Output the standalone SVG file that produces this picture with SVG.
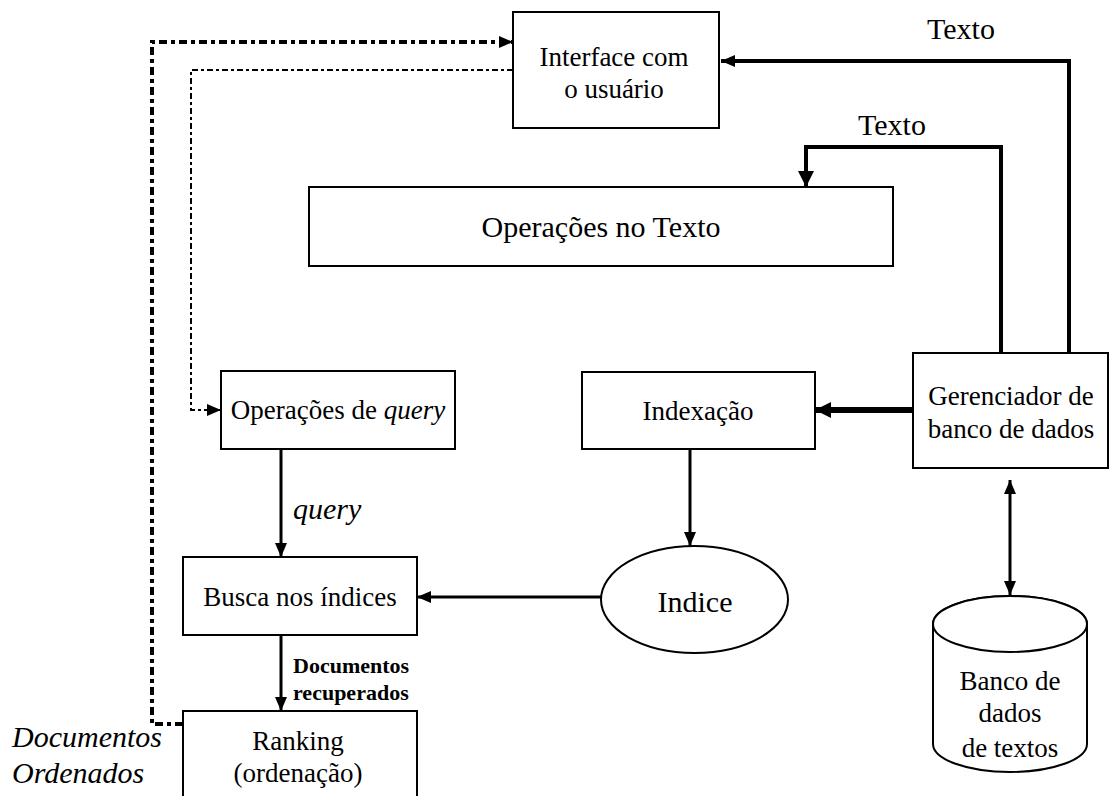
<svg xmlns="http://www.w3.org/2000/svg" width="1110" height="796" viewBox="0 0 1110 796">
<style>
.box{fill:#fff;stroke:#000;stroke-width:2}
.t{font-family:'Liberation Serif','Tinos','Times New Roman','DejaVu Serif',serif;font-size:27px;fill:#000;text-anchor:middle}
.big{font-size:30px}
.it{font-style:italic}
.b{font-weight:bold;font-size:22px;text-anchor:start}
.ln{fill:none;stroke:#000;stroke-width:3}
.th{stroke-width:4}
.tk{stroke-width:6}
.dt{fill:none;stroke:#000;stroke-width:4;stroke-dasharray:8 4 4 4}
.dn{fill:none;stroke:#000;stroke-width:2;stroke-dasharray:6 3 3 3}
</style>
<defs>
<marker id="a" markerUnits="userSpaceOnUse" viewBox="0 0 14 12" refX="14" refY="6" markerWidth="14" markerHeight="12" orient="auto"><path d="M0,0 L14,6 L0,12 z" fill="#000"/></marker>
<marker id="a2" markerUnits="userSpaceOnUse" viewBox="0 0 14 12" refX="14" refY="6" markerWidth="14" markerHeight="12" orient="auto-start-reverse"><path d="M0,0 L14,6 L0,12 z" fill="#000"/></marker>
<marker id="ab" markerUnits="userSpaceOnUse" viewBox="0 0 16 16" refX="16" refY="8" markerWidth="16" markerHeight="16" orient="auto"><path d="M0,0 L16,8 L0,16 z" fill="#000"/></marker>
</defs>
<g id="connectors">
<path class="ln th" d="M1069,353 V61 H721" marker-end="url(#a)"/>
<path class="ln th" d="M1001,353 V147 H806 V187" marker-end="url(#ab)"/>
<path class="ln tk" d="M913,410 H815" marker-end="url(#ab)"/>
<path class="ln" d="M690,449 V546" marker-end="url(#a)"/>
<path class="ln" d="M601,597 H417" marker-end="url(#a)"/>
<path class="ln" d="M281,449 V557" marker-end="url(#a)"/>
<path class="ln" d="M281,635 V711" marker-end="url(#a)"/>
<path class="ln" d="M1010,480 V595" marker-start="url(#a2)" marker-end="url(#a2)"/>
<path class="dt" d="M183,724 H152 V42 H513" marker-end="url(#a)"/>
<path class="dn" d="M513,70 H191 V410 H221" marker-end="url(#a)"/>
<text class="t big" x="961" y="39">Texto</text>
<text class="t big" x="892" y="135">Texto</text>
<text class="t it big" x="293" y="519" style="text-anchor:start">query</text>
<text class="t b" x="293" y="673">Documentos</text>
<text class="t b" x="293" y="700">recuperados</text>
<text class="t it big" x="12" y="747" style="text-anchor:start">Documentos</text>
<text class="t it big" x="12" y="783" style="text-anchor:start">Ordenados</text>
</g>
<g id="interface">
<rect class="box" x="513" y="12" width="206" height="116"/>
<text class="t" x="614" y="66">Interface com</text>
<text class="t" x="614" y="98">o usuário</text>
</g>
<g id="op-texto">
<rect class="box" x="309" y="187" width="584" height="79"/>
<text class="t big" x="601" y="237">Operações no Texto</text>
</g>
<g id="op-query">
<rect class="box" x="221" y="371" width="234" height="78"/>
<text class="t" x="338" y="419">Operações de <tspan class="it">query</tspan></text>
</g>
<g id="indexacao">
<rect class="box" x="582" y="372" width="233" height="77"/>
<text class="t" x="698" y="420">Indexação</text>
</g>
<g id="gerenciador">
<rect class="box" x="913" y="353" width="195" height="115"/>
<text class="t" x="1011" y="405">Gerenciador de</text>
<text class="t" x="1011" y="438">banco de dados</text>
</g>
<g id="indice">
<ellipse class="box" cx="694.5" cy="599.5" rx="93.5" ry="53.5"/>
<text class="t big" x="695" y="612">Indice</text>
</g>
<g id="busca">
<rect class="box" x="183" y="557" width="234" height="78"/>
<text class="t" x="300" y="606">Busca nos índices</text>
</g>
<g id="ranking">
<rect class="box" x="183" y="711" width="234" height="95"/>
<text class="t" x="298" y="750">Ranking</text>
<text class="t" x="298" y="782">(ordenação)</text>
</g>
<g id="banco">
<path class="box" d="M933,624 V744 A77,28 0 0 0 1087,744 V624 A77,28 0 0 0 933,624 Z"/>
<ellipse class="box" cx="1010" cy="624" rx="77" ry="28"/>
<text class="t" x="1010" y="690">Banco de</text>
<text class="t" x="1010" y="722">dados</text>
<text class="t" x="1010" y="757">de textos</text>
</g>
</svg>
